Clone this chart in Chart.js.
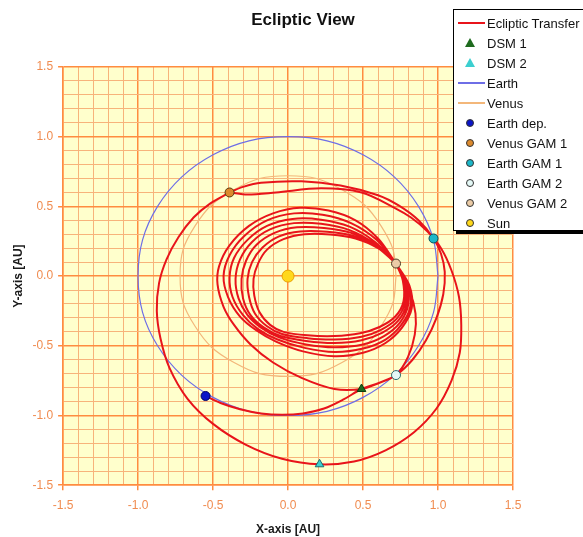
<!DOCTYPE html>
<html>
<head>
<meta charset="utf-8">
<script src="https://cdn.jsdelivr.net/npm/chart.js@4.4.1/dist/chart.umd.min.js"></script>
<style>
  html, body { margin: 0; padding: 0; background: #fff; overflow: hidden; }
  #wrap { position: relative; width: 583px; height: 537px; }
  #legend {
    position: absolute; left: 453px; top: 9px; width: 135px; height: 222px;
    background: #fff; border: 1px solid #000; box-shadow: 3px 3px 0 #000;
    font: 13px "Liberation Sans", Arial, sans-serif; color: #111;
    padding-top: 3px; box-sizing: border-box;
  }
  .row { height: 20px; display: flex; align-items: center; white-space: nowrap; }
  .sym { width: 33px; height: 20px; position: relative; flex: none; }
  .sym .ln { position: absolute; left: 4px; width: 27px; top: 9px; height: 2px; }
  .sym .dot { position: absolute; left: 12px; top: 6px; width: 8px; height: 8px; border-radius: 50%; box-sizing: border-box; border: 1px solid #333; }
  .sym .tri { position: absolute; left: 11px; top: 5px; width: 0; height: 0;
    border-left: 5px solid transparent; border-right: 5px solid transparent; border-bottom: 9px solid #1e6b1e; }
</style>
</head>
<body>
<div id="wrap">
  <canvas id="chart" width="583" height="537"></canvas>
  <div id="legend"></div>
</div>
<script>
(() => {
  'use strict';

  const chartTitle = 'Ecliptic View';

  // Axis ticks (AU)
  const axisMin = -1.5;
  const axisMax = 1.5;
  const minorStep = 0.1;

  // Earth orbit
  const earthOrbit = [
    [1.00, 0.00], [0.97, 0.26], [0.87, 0.50], [0.71, 0.71], [0.50, 0.87], [0.26, 0.97],
    [0.00, 1.00], [-0.26, 0.97], [-0.50, 0.87], [-0.71, 0.71], [-0.87, 0.50], [-0.97, 0.26],
    [-1.00, 0.00], [-0.97, -0.26], [-0.87, -0.50], [-0.71, -0.71], [-0.50, -0.87], [-0.26, -0.97],
    [0.00, -1.00], [0.26, -0.97], [0.50, -0.87], [0.71, -0.71], [0.87, -0.50], [0.97, -0.26], [1.00, 0.00],
  ];

  // Venus orbit
  const venusOrbit = [
    [0.72, 0.00], [0.70, 0.19], [0.62, 0.36], [0.51, 0.51], [0.36, 0.62], [0.19, 0.70],
    [0.00, 0.72], [-0.19, 0.70], [-0.36, 0.62], [-0.51, 0.51], [-0.62, 0.36], [-0.70, 0.19],
    [-0.72, 0.00], [-0.70, -0.19], [-0.62, -0.36], [-0.51, -0.51], [-0.36, -0.62], [-0.19, -0.70],
    [0.00, -0.72], [0.19, -0.70], [0.36, -0.62], [0.51, -0.51], [0.62, -0.36], [0.70, -0.19], [0.72, 0.00],
  ];

  // Transfer legs
  const legDeparture = [
    [-0.55, -0.86], [-0.45, -0.91], [-0.32, -0.955], [-0.18, -0.985], [-0.04, -0.995], [0.10, -0.985],
    [0.24, -0.95], [0.37, -0.885], [0.49, -0.81], [0.61, -0.765], [0.72, -0.71], [0.83, -0.60],
    [0.92, -0.46], [0.99, -0.30], [1.035, -0.13], [1.045, 0.03], [1.02, 0.16], [0.97, 0.27],
    [0.87, 0.40], [0.74, 0.505], [0.60, 0.58], [0.35, 0.65], [0.09, 0.68], [-0.18, 0.67],
    [-0.30, 0.64], [-0.39, 0.60],
  ];
  const legOuter = [
    [-0.39, 0.60], [-0.52, 0.52], [-0.63, 0.42], [-0.73, 0.28], [-0.81, 0.12], [-0.86, -0.05],
    [-0.875, -0.25], [-0.85, -0.45], [-0.79, -0.66], [-0.67, -0.88], [-0.50, -1.06], [-0.28, -1.21],
    [-0.04, -1.31], [0.21, -1.35], [0.44, -1.33], [0.65, -1.25], [0.84, -1.12], [0.99, -0.95],
    [1.09, -0.75], [1.145, -0.55], [1.155, -0.35], [1.14, -0.15], [1.09, 0.04], [1.02, 0.20],
    [0.93, 0.32], [0.82, 0.42], [0.71, 0.49], [0.49, 0.60], [0.22, 0.63], [-0.08, 0.60],
    [-0.27, 0.585], [-0.39, 0.60],
  ];
  const loop0 = [
    [0.72, 0.09], [0.60, 0.27], [0.45, 0.40], [0.27, 0.47], [0.08, 0.49], [-0.10, 0.45],
    [-0.26, 0.36], [-0.39, 0.22], [-0.46, 0.07], [-0.47, -0.06], [-0.43, -0.22], [-0.36, -0.35],
    [-0.25, -0.49], [-0.10, -0.62], [0.09, -0.73], [0.31, -0.81], [0.49, -0.81], [0.61, -0.765],
    [0.72, -0.71], [0.80, -0.58], [0.845, -0.42], [0.85, -0.27], [0.81, -0.10], [0.72, 0.09],
  ];
  const loop1 = [
    [0.72, 0.09], [0.59, 0.26], [0.42, 0.38], [0.23, 0.44], [0.04, 0.45], [-0.14, 0.40],
    [-0.29, 0.29], [-0.39, 0.15], [-0.43, 0.00], [-0.40, -0.15], [-0.32, -0.29], [-0.21, -0.39],
    [-0.08, -0.47], [0.10, -0.54], [0.31, -0.575], [0.50, -0.55], [0.65, -0.48], [0.76, -0.37],
    [0.825, -0.23], [0.81, -0.07], [0.72, 0.09],
  ];
  const loop2 = [
    [0.72, 0.09], [0.58, 0.245], [0.41, 0.355], [0.22, 0.405], [0.03, 0.41], [-0.14, 0.36],
    [-0.27, 0.26], [-0.36, 0.13], [-0.39, -0.01], [-0.37, -0.15], [-0.30, -0.28], [-0.20, -0.38],
    [-0.07, -0.455], [0.11, -0.515], [0.31, -0.545], [0.50, -0.52], [0.65, -0.455], [0.755, -0.35],
    [0.815, -0.22], [0.80, -0.06], [0.72, 0.09],
  ];
  const loop3 = [
    [0.72, 0.09], [0.58, 0.23], [0.41, 0.33], [0.22, 0.375], [0.04, 0.38], [-0.12, 0.335],
    [-0.24, 0.245], [-0.32, 0.12], [-0.35, -0.02], [-0.33, -0.16], [-0.27, -0.28], [-0.18, -0.37],
    [-0.06, -0.44], [0.12, -0.49], [0.31, -0.51], [0.50, -0.49], [0.64, -0.43], [0.745, -0.335],
    [0.80, -0.21], [0.79, -0.05], [0.72, 0.09],
  ];
  const loop4 = [
    [0.72, 0.09], [0.58, 0.22], [0.42, 0.31], [0.24, 0.345], [0.06, 0.35], [-0.09, 0.31],
    [-0.21, 0.225], [-0.28, 0.11], [-0.31, -0.02], [-0.30, -0.16], [-0.25, -0.28], [-0.16, -0.37],
    [-0.05, -0.43], [0.12, -0.465], [0.31, -0.48], [0.49, -0.46], [0.63, -0.405], [0.735, -0.32],
    [0.79, -0.20], [0.78, -0.05], [0.72, 0.09],
  ];
  const loop5 = [
    [0.72, 0.09], [0.59, 0.21], [0.43, 0.29], [0.26, 0.318], [0.08, 0.32], [-0.06, 0.285],
    [-0.17, 0.205], [-0.24, 0.10], [-0.27, -0.02], [-0.26, -0.15], [-0.22, -0.27], [-0.14, -0.36],
    [-0.04, -0.415], [0.13, -0.445], [0.31, -0.455], [0.49, -0.435], [0.62, -0.385], [0.725, -0.305],
    [0.78, -0.19], [0.775, -0.04], [0.72, 0.09],
  ];
  const loop6 = [
    [0.72, 0.09], [0.60, 0.20], [0.45, 0.27], [0.28, 0.298], [0.11, 0.30], [-0.03, 0.265],
    [-0.14, 0.19], [-0.20, 0.09], [-0.23, -0.02], [-0.225, -0.14], [-0.19, -0.26], [-0.12, -0.35],
    [-0.03, -0.40], [0.13, -0.425], [0.31, -0.43], [0.48, -0.41], [0.61, -0.365], [0.715, -0.29],
    [0.77, -0.18], [0.765, -0.03], [0.72, 0.09],
  ];

  // Events
  const dsm1 = [[0.49, -0.81]];
  const dsm2 = [[0.21, -1.35]];
  const earthDep = [[-0.55, -0.86]];
  const venusGam1 = [[-0.39, 0.60]];
  const earthGam1 = [[0.97, 0.27]];
  const earthGam2 = [[0.72, -0.71]];
  const venusGam2 = [[0.72, 0.09]];
  const sun = [[0.00, 0.00]];

  const pts = arr => arr.map(([x, y]) => ({ x, y }));
  const gap = { x: null, y: null };
  const transfer = [legDeparture, legOuter, loop0, loop1, loop2, loop3, loop4, loop5, loop6]
    .reduce((acc, seg, i) => acc.concat(i ? [gap] : [], pts(seg)), []);

  const isMajor = v => Math.abs(v * 2 - Math.round(v * 2)) < 1e-6;
  const MAJOR = '#FF8C40';
  const MINOR = '#F7B37A';
  const TICK_TXT = '#F08C50';
  const FONT = 'Liberation Sans, Arial, sans-serif';

  function marker(label, data, fill, stroke, style, r) {
    return {
      label, data: pts(data), showLine: false, order: 0,
      pointStyle: style, pointRadius: r, pointHoverRadius: r,
      backgroundColor: fill, borderColor: stroke, borderWidth: 1,
    };
  }
  function curve(label, data, color, width, order, tension) {
    return {
      label, data, showLine: true, order, spanGaps: false,
      borderColor: color, borderWidth: width, pointRadius: 0, tension, fill: false,
    };
  }

  const datasets = [
    marker('DSM 1', dsm1, '#1E6B1E', '#0d3d0d', 'triangle', 5),
    marker('DSM 2', dsm2, '#3CCFD0', '#1b6c70', 'triangle', 5),
    marker('Earth dep.', earthDep, '#0a14c8', '#000060', 'circle', 4.5),
    marker('Venus GAM 1', venusGam1, '#DC8A2E', '#5a3a10', 'circle', 4.5),
    marker('Earth GAM 1', earthGam1, '#1CB7C9', '#0b4f58', 'circle', 4.5),
    marker('Earth GAM 2', earthGam2, '#E4F8F6', '#2e6e70', 'circle', 4.5),
    marker('Venus GAM 2', venusGam2, '#EBCBA6', '#4e3a24', 'circle', 4.5),
    marker('Sun', sun, '#FFD81A', '#E8A000', 'circle', 6),
    curve('Ecliptic Transfer', transfer, '#E8141B', 2, 1, 0.33),
    curve('Venus', pts(venusOrbit), '#F3B77A', 1.2, 2, 0.34),
    curve('Earth', pts(earthOrbit), '#6E6EE6', 1.2, 3, 0.34),
  ];

  const plotBg = {
    id: 'plotBg',
    beforeDraw(chart) {
      const { ctx, chartArea: a } = chart;
      ctx.save();
      ctx.fillStyle = '#FFFFCC';
      ctx.fillRect(a.left, a.top, a.width, a.height);
      ctx.restore();
    },
  };

  // Title sits a little right of the canvas centre, as in the original
  const titleText = {
    id: 'titleText',
    afterDraw(chart) {
      const { ctx } = chart;
      ctx.save();
      ctx.font = `bold 17px ${FONT}`;
      ctx.fillStyle = '#111';
      ctx.textAlign = 'center';
      ctx.textBaseline = 'middle';
      ctx.fillText(chartTitle, 303, 20);
      ctx.restore();
    },
  };

  const axis = (title, padTitle, padTicks) => ({
    type: 'linear', min: axisMin, max: axisMax,
    border: { display: true, color: MAJOR, width: 1.5 },
    grid: {
      color: c => isMajor(c.tick.value) ? MAJOR : MINOR,
      lineWidth: c => isMajor(c.tick.value) ? 1.5 : 1,
      tickColor: c => isMajor(c.tick.value) ? MAJOR : 'rgba(0,0,0,0)',
      tickLength: 5,
    },
    ticks: {
      stepSize: minorStep, autoSkip: false, maxRotation: 0, padding: padTicks,
      color: TICK_TXT, font: { family: FONT, size: 12 },
      callback: v => isMajor(v) ? v.toFixed(1) : '',
    },
    title: {
      display: true, text: title, color: '#1a1a1a', padding: padTitle,
      font: { family: FONT, size: 12, weight: 'bold' },
    },
  });

  new Chart(document.getElementById('chart'), {
    type: 'scatter',
    data: { datasets },
    options: {
      responsive: false,
      animation: false,
      layout: { padding: { left: 5, right: 70, top: 67, bottom: 0 } },
      plugins: {
        legend: { display: false },
        tooltip: { enabled: false },
        title: { display: false },
      },
      scales: {
        x: axis('X-axis [AU]', { top: 2, bottom: 0 }, 8),
        y: axis('Y-axis [AU]', { top: 6, bottom: 2 }, 5),
      },
    },
    plugins: [plotBg, titleText],
  });

  // Legend box drawn over the plot, like the original
  const legendItems = [
    { label: 'Ecliptic Transfer', line: '#E8141B' },
    { label: 'DSM 1', tri: '#1E6B1E' },
    { label: 'DSM 2', tri: '#3CCFD0' },
    { label: 'Earth', line: '#6E6EE6', thin: true },
    { label: 'Venus', line: '#F3B77A', thin: true },
    { label: 'Earth dep.', dot: '#0a14c8' },
    { label: 'Venus GAM 1', dot: '#DC8A2E' },
    { label: 'Earth GAM 1', dot: '#1CB7C9' },
    { label: 'Earth GAM 2', dot: '#E4F8F6' },
    { label: 'Venus GAM 2', dot: '#EBCBA6' },
    { label: 'Sun', dot: '#FFD81A' },
  ];
  document.getElementById('legend').innerHTML = legendItems.map(it => {
    let sym = '';
    if (it.line) sym = `<div class="ln" style="background:${it.line};${it.thin ? 'height:1.5px' : ''}"></div>`;
    if (it.tri) sym = `<div class="tri" style="border-bottom-color:${it.tri}"></div>`;
    if (it.dot) sym = `<div class="dot" style="background:${it.dot}"></div>`;
    return `<div class="row"><div class="sym">${sym}</div><span>${it.label}</span></div>`;
  }).join('');
})();
</script>
</body>
</html>
